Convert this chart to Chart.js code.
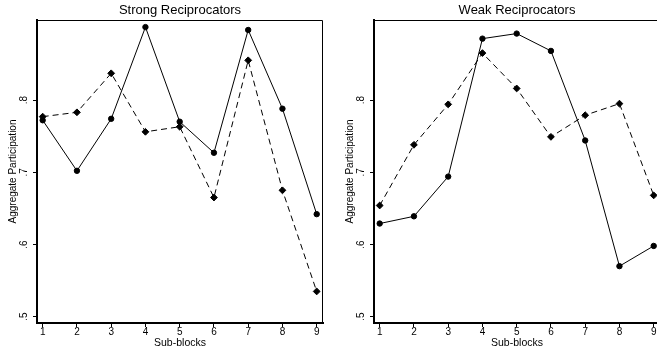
<!DOCTYPE html>
<html lang="en">
<head>
  <meta charset="UTF-8">
  <title>Aggregate Participation by Sub-block</title>
  <script src="https://cdn.jsdelivr.net/npm/chart.js"></script>
  <style>
    html, body {
      margin: 0;
      padding: 0;
      background: #fff;
      width: 657px;
      height: 351px;
      overflow: hidden;
    }
    .panel {
      position: absolute;
      top: 0;
      width: 328px;
      height: 351px;
    }
    #left { left: 0; }
    #right { left: 337px; }
  </style>
</head>
<body>
  <div class="panel" id="left"><canvas id="chart-strong"></canvas></div>
  <div class="panel" id="right"><canvas id="chart-weak"></canvas></div>

  <script>
    // Data
    const subBlocks = [1, 2, 3, 4, 5, 6, 7, 8, 9];
    const yTicks = [0.5, 0.6, 0.7, 0.8];

    const strongSolid  = [0.772, 0.702, 0.774, 0.901, 0.770, 0.727, 0.897, 0.788, 0.642];
    const strongDashed = [0.777, 0.783, 0.837, 0.756, 0.763, 0.665, 0.855, 0.675, 0.535];
    const weakSolid    = [0.629, 0.639, 0.694, 0.885, 0.892, 0.868, 0.744, 0.570, 0.598];
    const weakDashed   = [0.654, 0.738, 0.794, 0.865, 0.816, 0.749, 0.779, 0.795, 0.668];

    Chart.defaults.font.family = "'Liberation Sans', Arial, sans-serif";
    Chart.defaults.color = '#000';

    const toPoints = vals => vals.map((v, i) => ({ x: subBlocks[i], y: v }));

    // top and right edges of the plot box
    const frame = {
      id: 'frame',
      beforeDatasetsDraw(chart) {
        const { ctx, chartArea: a } = chart;
        ctx.save();
        ctx.strokeStyle = '#000';
        ctx.lineWidth = 1;
        ctx.beginPath();
        ctx.moveTo(a.left, a.top + 0.5);
        ctx.lineTo(a.right - 0.5, a.top + 0.5);
        ctx.lineTo(a.right - 0.5, a.bottom);
        ctx.stroke();
        ctx.restore();
      }
    };

    const axisGrid = { display: true, drawOnChartArea: false, drawTicks: true, tickLength: 4, color: '#000', lineWidth: 1 };
    const axisBorder = { display: true, color: '#000', width: 2 };

    const makeChart = (id, title, solid, dashed) => new Chart(document.getElementById(id), {
      type: 'line',
      data: {
        datasets: [
          { data: toPoints(solid), borderColor: '#000', backgroundColor: '#000', borderWidth: 1,
            pointStyle: 'circle', pointRadius: 2.7, pointBorderWidth: 1, tension: 0 },
          { data: toPoints(dashed), borderColor: '#000', backgroundColor: '#000', borderWidth: 1,
            borderDash: [6, 4], pointStyle: 'rectRot', pointRadius: 3.4, pointBorderWidth: 1, tension: 0 }
        ]
      },
      options: {
        responsive: true,
        maintainAspectRatio: false,
        animation: false,
        layout: { padding: { left: 0, right: 5, top: 0, bottom: 0 } },
        plugins: {
          legend: { display: false },
          tooltip: { enabled: false },
          title: {
            display: true, text: title, fullSize: false, color: '#000',
            font: { size: 13, weight: 'normal', lineHeight: 1.2 },
            padding: { top: 3, bottom: 1.4 }
          }
        },
        scales: {
          x: {
            type: 'linear', min: 0.834, max: 9.184,
            afterBuildTicks: ax => { ax.ticks = subBlocks.map(v => ({ value: v })); },
            afterFit: ax => { ax.height = 28; },
            grid: axisGrid,
            border: axisBorder,
            ticks: { padding: 0.5, color: '#000', font: { size: 10, lineHeight: 1 } },
            title: { display: true, text: 'Sub-blocks', color: '#000',
                     font: { size: 10.5, lineHeight: 1.2 }, padding: { top: 0, bottom: 1.7 } }
          },
          y: {
            type: 'linear', min: 0.4913, max: 0.9108,
            afterBuildTicks: ax => { ax.ticks = yTicks.map(v => ({ value: v })); },
            afterFit: ax => { ax.width = 37; },
            grid: axisGrid,
            border: axisBorder,
            ticks: {
              padding: 5, minRotation: 90, maxRotation: 90, crossAlign: 'center', color: '#000',
              font: { size: 10, lineHeight: 1 },
              callback: v => String(v).replace(/^0/, '')
            },
            title: { display: true, text: 'Aggregate Participation', color: '#000',
                     font: { size: 10, lineHeight: 1.2 }, padding: { top: 7, bottom: 0 } }
          }
        }
      },
      plugins: [frame]
    });

    makeChart('chart-strong', 'Strong Reciprocators', strongSolid, strongDashed);
    makeChart('chart-weak', 'Weak Reciprocators', weakSolid, weakDashed);
  </script>
</body>
</html>
